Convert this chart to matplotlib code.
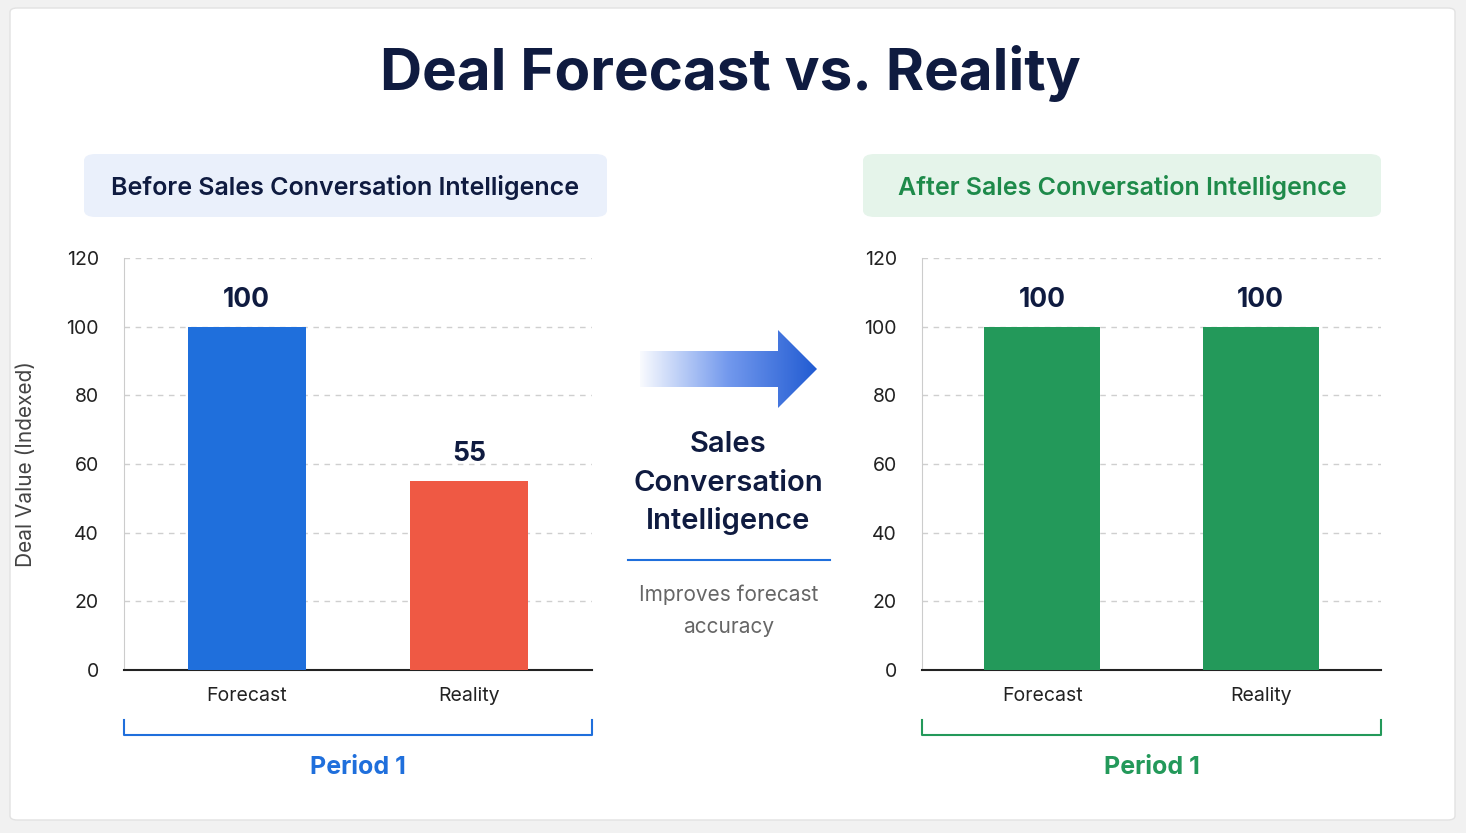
import matplotlib
matplotlib.use("Agg")
import matplotlib.pyplot as plt
import numpy as np
from matplotlib.patches import FancyBboxPatch, Polygon
from matplotlib.lines import Line2D
from matplotlib.colors import LinearSegmentedColormap

plt.rcParams['font.family'] = ['Inter', 'DejaVu Sans']

categories = ["Forecast", "Reality"]
before_values = [100, 55]
after_values = [100, 100]
yticks = [0, 20, 40, 60, 80, 100, 120]

W, H = 1466, 833
fig = plt.figure(figsize=(W/100, H/100), dpi=100, facecolor="#f1f1f1")
def fx(x): return x / W
def fy(y): return 1 - y / H

card = FancyBboxPatch((fx(10), fy(820)), fx(1445), 812/H, boxstyle="round,pad=0,rounding_size=0.005",
                      transform=fig.transFigure, facecolor="white", edgecolor="#e2e2e2", lw=1, zorder=-5)
fig.patches.append(card)

navy = "#0f1b40"
blue = "#1f6fdc"
red = "#ef5944"
green = "#23995a"
dgreen = "#1e8a4a"

fig.text(fx(730), fy(74), "Deal Forecast vs. Reality", ha="center", va="center",
         fontsize=42, fontweight="bold", color=navy)

def header(x0, x1, text, fc, tc):
    p = FancyBboxPatch((fx(x0), fy(217)), fx(x1 - x0), 63/H, boxstyle="round,pad=0,rounding_size=0.008",
                       transform=fig.transFigure, facecolor=fc, edgecolor="none", zorder=-4)
    fig.patches.append(p)
    fig.text(fx((x0 + x1) / 2), fy(187), text, ha="center", va="center", fontsize=18,
             fontweight="semibold", color=tc)

header(84, 607, "Before Sales Conversation Intelligence", "#eaf0fb", navy)
header(863, 1381, "After Sales Conversation Intelligence", "#e5f4ea", dgreen)

def panel(x0, x1, values, colors, bcolor, ylabel):
    ax = fig.add_axes([fx(x0), fy(670), fx(x1 - x0), 412/H])
    ax.set_facecolor("none")
    x = np.arange(len(categories))
    ax.bar(x, values, width=0.53, color=colors, zorder=3)
    for xi, v in zip(x, values):
        ax.text(xi, v + 4, str(v), ha="center", va="bottom", fontsize=19, fontweight="bold", color=navy)
    ax.set_xlim(-0.55, 1.55)
    ax.set_ylim(0, 120)
    ax.set_yticks(yticks)
    ax.set_xticks(x)
    ax.set_xticklabels(categories)
    ax.tick_params(axis="both", length=0, labelsize=14, colors="#222222")
    ax.tick_params(axis="y", pad=18)
    ax.tick_params(axis="x", pad=12)
    ax.grid(axis="y", ls=(0, (4, 4)), color="#cfcfcf", lw=1, zorder=0)
    for s in ["top", "right"]:
        ax.spines[s].set_visible(False)
    ax.spines["left"].set_color("#cccccc")
    ax.spines["bottom"].set_color("#222222")
    ax.spines["bottom"].set_linewidth(1.5)
    if ylabel:
        ax.set_ylabel(ylabel, fontsize=15, color="#444444", labelpad=22)
    xs = [fx(x0), fx(x0), fx(x1), fx(x1)]
    ys = [fy(720), fy(735), fy(735), fy(720)]
    fig.add_artist(Line2D(xs, ys, transform=fig.transFigure, color=bcolor, lw=1.5))
    fig.text(fx((x0 + x1) / 2), fy(767), "Period 1", ha="center", va="center",
             fontsize=18, fontweight="bold", color=bcolor)
    return ax

panel(124, 592, before_values, [blue, red], blue, "Deal Value (Indexed)")
panel(922, 1381, after_values, [green, green], green, None)

axa = fig.add_axes([fx(636), fy(410), fx(184), 82/H])
axa.set_xlim(636, 820); axa.set_ylim(410, 328); axa.axis("off")
grad = np.linspace(0, 1, 256)[None, :]
cmap = LinearSegmentedColormap.from_list("g", [(1, 1, 1, 1), (0.45, 0.6, 0.93, 1), (0.12, 0.35, 0.82, 1)])
im = axa.imshow(grad, extent=[636, 820, 410, 328], aspect="auto", cmap=cmap)
poly = Polygon([(640, 351), (778, 351), (778, 330), (817, 369), (778, 408), (778, 387), (640, 387)],
               closed=True, transform=axa.transData, facecolor="none", edgecolor="none")
axa.add_patch(poly)
im.set_clip_path(poly)

for t, y in [("Sales", 444), ("Conversation", 483), ("Intelligence", 521)]:
    fig.text(fx(728), fy(y), t, ha="center", va="center", fontsize=21, fontweight="semibold", color=navy)
fig.add_artist(Line2D([fx(628), fx(830)], [fy(560), fy(560)], transform=fig.transFigure, color=blue, lw=1.5))
fig.text(fx(729), fy(595), "Improves forecast", ha="center", va="center", fontsize=15, color="#666666")
fig.text(fx(729), fy(627), "accuracy", ha="center", va="center", fontsize=15, color="#666666")

fig.savefig("out.png", dpi=100, facecolor=fig.get_facecolor())
